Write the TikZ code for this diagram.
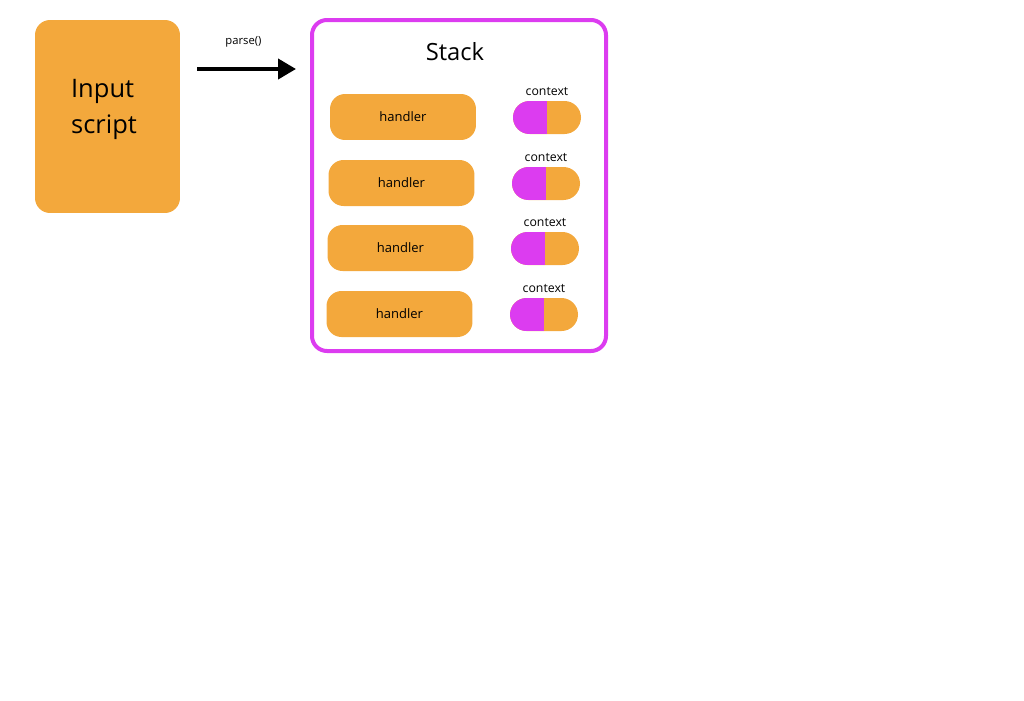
\documentclass[tikz,border=0pt]{standalone}
\usepackage{fontspec}
\setmainfont{Open Sans}
\usetikzlibrary{positioning,arrows.meta}
\definecolor{boxorange}{HTML}{F3A83C}
\definecolor{stackpink}{HTML}{DC3CF0}
\tikzset{
  block/.style={fill=boxorange, rounded corners=0.3cm, inner sep=0pt},
  handler/.style={block, minimum width=2.92cm, minimum height=0.92cm, font=\fontsize{7.4}{9}\selectfont},
  ctxpill/.style={fill=boxorange, rounded corners=0.33cm, minimum width=1.36cm, minimum height=0.66cm, inner sep=0pt,
    path picture={\fill[stackpink, sharp corners] (path picture bounding box.south west) rectangle (path picture bounding box.north);}},
  ctxlabel/.style={font=\fontsize{7}{8}\selectfont, inner sep=1pt},
}
\begin{document}
\begin{tikzpicture}[x=0.02cm, y=-0.02cm]
  \useasboundingbox (0,0) rectangle (1024,700);

  % ---- Input ----
  \node[block, minimum width=2.9cm, minimum height=3.86cm] (input) at (107.5,116.5) {};
  \node[font=\fontsize{14.5}{20}\selectfont, align=left] (inputlabel) at (104,109.5) {Input\\script};

  % ---- Stack ----
  \draw[stackpink, line width=0.08cm, rounded corners=0.3cm] (312,20) rectangle (606,351);
  \node[inner sep=0pt] (stack) at (459,185.5) {};
  \node[font=\fontsize{13.5}{16}\selectfont] (stacktitle) at (455,52) {Stack};
  \foreach \i/\hx/\px/\y in {1/403/547/117, 2/401.5/546/183, 3/400.5/545/248, 4/399.5/544/314} {
    \node[handler] (handler\i) at (\hx,\y) {handler};
    \node[ctxpill] (ctx\i) at (\px,\y+0.5) {};
    \node[ctxlabel, above=1.7pt of ctx\i] (ctxlabel\i) {context};
  }

  % ---- parse arrow ----
  \coordinate (parsefrom) at (197,69);
  \coordinate (parseto) at (296,69);
  \draw[line width=0.08cm, -{Triangle[length=0.36cm,width=0.4cm]}] (parsefrom) -- (parseto)
    node[midway, xshift=-0.06cm, above=0.27cm, font=\fontsize{6.4}{8}\selectfont] (parselabel) {parse()};
\end{tikzpicture}
\end{document}
